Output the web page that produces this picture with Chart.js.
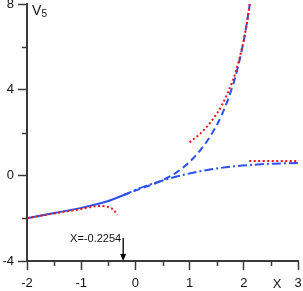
<!DOCTYPE html>
<html><head><meta charset="utf-8">
<script src="https://cdn.jsdelivr.net/npm/chart.js@4"></script>
<style>html,body{margin:0;padding:0;background:#fff}#w{width:303px;height:291px}</style>
</head><body><div id="w"><canvas id="c"></canvas></div>
<script>
// Solid blue branch (x < X0)
const mainX = [-2, -1.5, -1, -0.5, -0.2254];
const mainY = [-2.0, -1.76, -1.52, -1.2, -0.93];
// Dash-dot blue branch (levelling)
const levelX = [-0.2254, 0.08, 0.39, 0.95, 1.38, 1.81, 2.42, 3.0];
const levelY = [-0.93, -0.6, -0.33, 0.06, 0.27, 0.42, 0.53, 0.58];
// Dashed blue branch (rising)
const riseX = [-0.2254, 0.1, 0.4, 0.76, 1.0, 1.2, 1.4, 1.6, 1.8, 1.9, 2.0, 2.06, 2.11];
const riseY = [-0.93, -0.62, -0.34, 0.14, 0.63, 1.18, 1.9, 2.86, 4.22, 5.14, 6.3, 7.16, 8.0];
// Red dotted approximations
const redLowX = [-2, -1.5, -1, -0.8, -0.65, -0.5, -0.4, -0.33];
const redLowY = [-2.0, -1.78, -1.57, -1.47, -1.43, -1.48, -1.62, -1.85];
const redHighX = [1.0, 1.2, 1.4, 1.6, 1.8, 1.9, 2.0, 2.06, 2.11];
const redHighY = [1.54, 1.96, 2.52, 3.3, 4.45, 5.26, 6.34, 7.16, 8.0];
const redFlatX = [2.1, 3.0];
const redFlatY = [0.67, 0.67];
// Axes
const xTicks = [-2, -1, 0, 1, 2, 3];
const yTicks = [-4, 0, 4, 8];
const markX = -0.2254;
const markLabel = 'X=-0.2254';

const pts = (xs, ys) => xs.map((x, i) => ({x, y: ys[i]}));
const BLUE = 'rgb(45,80,240)', RED = 'rgb(240,20,20)', AX = '#3a3a3a';

const extras = {
  id: 'extras',
  afterDraw(chart) {
    const {ctx, scales: {x, y}, chartArea: a} = chart;
    ctx.save();
    ctx.strokeStyle = AX; ctx.lineWidth = 1.5;
    // minor ticks
    [-1.5, -0.5, 0.5, 1.5, 2.5].forEach(v => {
      const px = Math.round(x.getPixelForValue(v)) + 0.5;
      ctx.beginPath(); ctx.moveTo(px, a.bottom); ctx.lineTo(px, a.bottom + 5); ctx.stroke();
    });
    [6, 2, -2].forEach(v => {
      const py = Math.round(y.getPixelForValue(v)) + 0.5;
      ctx.beginPath(); ctx.moveTo(a.left, py); ctx.lineTo(a.left - 5, py); ctx.stroke();
    });
    ctx.fillStyle = '#111';
    ctx.textBaseline = 'alphabetic';
    // y title V5
    ctx.font = '14px "Liberation Sans", Arial, sans-serif';
    ctx.textAlign = 'left';
    ctx.fillText('V', 32, 15);
    ctx.font = '10px "Liberation Sans", Arial, sans-serif';
    ctx.fillText('5', 41.5, 17);
    // x title
    ctx.font = '13px "Liberation Sans", Arial, sans-serif';
    ctx.textAlign = 'center';
    ctx.fillText('X', 277, 288);
    // annotation
    const mx = x.getPixelForValue(markX);
    ctx.font = '11px "Liberation Sans", Arial, sans-serif';
    ctx.textAlign = 'right';
    ctx.fillText(markLabel, mx - 2, 242);
    ctx.strokeStyle = '#000'; ctx.lineWidth = 1.3;
    ctx.beginPath(); ctx.moveTo(mx, 238); ctx.lineTo(mx, a.bottom - 4); ctx.stroke();
    ctx.fillStyle = '#000';
    ctx.beginPath(); ctx.moveTo(mx - 3, a.bottom - 7); ctx.lineTo(mx + 3, a.bottom - 7); ctx.lineTo(mx, a.bottom); ctx.closePath(); ctx.fill();
    ctx.restore();
  }
};

const common = {pointRadius: 0, fill: false, borderWidth: 2, cubicInterpolationMode: 'monotone'};
new Chart(document.getElementById('c'), {
  type: 'line',
  data: {datasets: [
    {...common, data: pts(mainX, mainY), borderColor: BLUE, order: 3},
    {...common, data: pts(levelX, levelY), borderColor: BLUE, borderDash: [9, 3, 2, 3], order: 3},
    {...common, data: pts(riseX, riseY), borderColor: BLUE, borderDash: [7, 4], order: 3},
    {...common, data: pts(redLowX, redLowY), borderColor: RED, borderDash: [2, 2.5], order: 1},
    {...common, data: pts(redHighX, redHighY), borderColor: RED, borderDash: [2, 2.5], order: 1},
    {...common, data: pts(redFlatX, redFlatY), borderColor: RED, borderDash: [2, 2.5], order: 1}
  ]},
  options: {
    responsive: true, maintainAspectRatio: false, animation: false,
    devicePixelRatio: 1,
    layout: {padding: {top: 4, right: 5, left: 0, bottom: 0}},
    plugins: {legend: {display: false}, tooltip: {enabled: false}},
    scales: {
      x: {
        type: 'linear', min: -2, max: 3,
        afterBuildTicks: s => { s.ticks = xTicks.map(v => ({value: v})); },
        ticks: {color: '#111', padding: 6, maxRotation: 0, autoSkip: false,
          font: {size: 13, family: '"Liberation Sans", Arial, sans-serif'}},
        grid: {drawOnChartArea: false, tickLength: 9, tickColor: AX, tickWidth: 1.5},
        border: {color: AX, width: 2},
        afterFit: s => { s.height = 30; s.paddingLeft = 0; s.paddingRight = 0; }
      },
      y: {
        type: 'linear', min: -4, max: 8,
        afterBuildTicks: s => { s.ticks = yTicks.map(v => ({value: v})); },
        ticks: {color: '#111', padding: 4, autoSkip: false,
          font: {size: 13, family: '"Liberation Sans", Arial, sans-serif'}},
        grid: {drawOnChartArea: false, tickLength: 9, tickColor: AX, tickWidth: 1.5},
        border: {color: AX, width: 2},
        afterFit: s => { s.width = 27; s.paddingTop = 0; s.paddingBottom = 0; }
      }
    }
  },
  plugins: [extras]
});
</script></body></html>
